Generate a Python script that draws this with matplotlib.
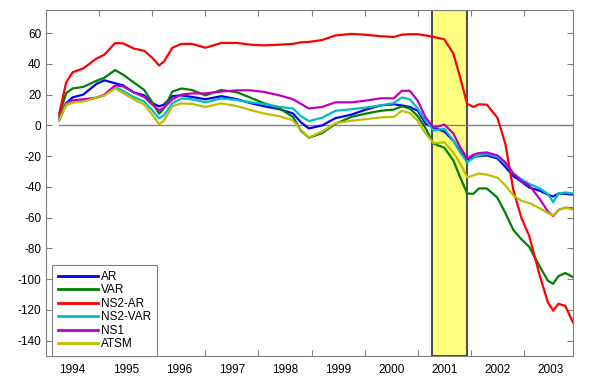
import numpy as np
import matplotlib
matplotlib.use("Agg")
import matplotlib.pyplot as plt

# time axis (years) and the six forecast error series
t = [1994.25, 1994.38, 1994.5, 1994.7, 1994.95, 1995.1, 1995.3, 1995.45, 1995.65, 1995.85,
     1996.0, 1996.13, 1996.22, 1996.38, 1996.55, 1996.75, 1997.0, 1997.3, 1997.6, 1997.85,
     1998.1, 1998.4, 1998.65, 1998.8, 1998.95, 1999.2, 1999.45, 1999.75, 2000.0, 2000.3,
     2000.55, 2000.7, 2000.85, 2001.0, 2001.15, 2001.3, 2001.5, 2001.67, 2001.8, 2001.93,
     2002.05, 2002.15, 2002.3, 2002.5, 2002.65, 2002.8, 2002.95, 2003.1, 2003.3, 2003.45,
     2003.55, 2003.65, 2003.78, 2003.92]

ar = [3.3, 14.5, 18.2, 20, 27, 29.3, 27.4, 26, 21.5, 19.5,
      14.5, 12.4, 13.5, 19, 19.5, 18.5, 17, 19, 17, 14.5,
      12.5, 10.5, 7.8, 2, -2, 0, 4.7, 7, 10, 13,
      13.7, 13, 12, 9.5, 1, -1.5, -4, -10, -17, -22,
      -20.5, -20, -19.5, -21.5, -27, -33, -36.5, -40.4, -42.5, -45,
      -46.3, -44.3, -44.5, -45]

var = [6.5, 21, 24, 25, 29, 31, 36, 33, 28, 23,
       15, 7.6, 11, 22, 24, 23, 19.5, 23, 21.5, 18,
       14.5, 11, 5.5, -3.5, -8, -5, 1, 5.5, 7.5, 9.5,
       10.3, 12.4, 11, 6, -2, -12, -14.5, -22.8, -33.8, -44.3,
       -44.5, -41, -41, -47, -57, -68, -74, -79, -92, -101,
       -103, -98, -96, -98.6]

ns2_ar = [7.8, 28, 34.5, 37, 43.5, 46, 53.5, 53.4, 50, 48.5,
          44, 39, 41.5, 50.5, 53, 53, 50.5, 53.6, 53.6, 52.5,
          52, 52.5, 53, 54, 54.3, 55.5, 58.5, 59.5, 59, 58,
          57.5, 59, 59.3, 59.3, 58.5, 57.5, 56, 46.7, 31, 14,
          12, 13.7, 13.5, 5, -12, -42, -60, -72, -98, -115,
          -120.5, -116, -117.5, -128]

ns2_var = [5.2, 13, 15, 16, 18, 19.5, 24.8, 22.5, 18.5, 15.5,
           9.8, 4.6, 6.5, 14.5, 17.5, 17, 15, 17.5, 16.5, 15,
           14, 12, 11, 6, 2.8, 5, 9.5, 10.5, 11.5, 13,
           14.5, 18.2, 17, 11, 3, -3.3, -2.2, -9.8, -17.6, -24,
           -21, -19.5, -18.5, -20.5, -25, -31.3, -35, -38, -41, -44.5,
           -50, -44.3, -43.6, -44.3]

ns1 = [4.6, 14.5, 16.3, 17, 18, 20, 26, 25.4, 21.5, 18.5,
       13.5, 9.8, 11.5, 17, 20, 20.8, 20.8, 22, 22.8, 22.8,
       21.8, 19.5, 17, 14, 11, 12, 15, 15, 16, 17.6,
       17.6, 22.5, 22.5, 16, 5, -1.5, 0.5, -5.2, -14.3, -21.5,
       -19, -18, -17.6, -19.5, -24, -31.3, -36, -39, -48, -56,
       -59, -55, -53.5, -54]

atsm = [3.3, 13.5, 14.8, 15.5, 18, 19.5, 24, 21, 17, 13.5,
        7, 0.7, 3, 12.5, 14.3, 14, 12, 14.3, 12.5, 10,
        7.8, 5.9, 3.3, -3, -7.8, -4, 1.5, 3, 4, 5.2,
        5.5, 9.5, 8, 3, -5.5, -11.7, -11, -17.6, -24.8, -33.8,
        -32.5, -31.3, -32, -34, -39, -45.5, -49, -50.5, -54, -57,
        -58.6, -55, -53.5, -54.7]

labels = ["AR", "VAR", "NS2-AR", "NS2-VAR", "NS1", "ATSM"]
colors = ["#0000ff", "#008000", "#ff0000", "#00bfbf", "#bf00bf", "#bfbf00"]

# recession band
band = (2001.27, 2001.93)
years = list(range(1994, 2004))

plt.rcParams['font.family'] = ['Liberation Sans', 'DejaVu Sans']
plt.rcParams['axes.unicode_minus'] = False

fig = plt.figure(figsize=(6, 3.87), dpi=100)
ax = fig.add_axes([0.0767, 0.080, 0.878, 0.894])

ax.axvspan(band[0], band[1], facecolor="#ffff80", edgecolor="#505050", linewidth=1.5, zorder=1)
ax.plot([t[0], t[-1]], [0, 0], color="#808080", linewidth=1, zorder=2)

for series, lab, col in zip([ar, var, ns2_ar, ns2_var, ns1, atsm], labels, colors):
	ax.plot(t, series, color=col, linewidth=1.6, label=lab, zorder=3)

ax.set_xlim(1994, 2003.92)
ax.set_ylim(-150, 75)
ax.set_yticks(np.arange(-140, 61, 20))

# ticks at year boundaries, labels centred on each year
ax.set_xticks(years[1:])
ax.set_xticklabels([])
ax.set_xticks([y + 0.5 for y in years], minor=True)
ax.set_xticklabels([str(y) for y in years], minor=True)

ax.tick_params(axis='both', which='major', direction='in', length=4, width=0.8,
               color="#808080", labelsize=8.5, top=True, right=True)
ax.tick_params(axis='x', which='minor', length=0, labelsize=8.5, pad=6)
for s in ax.spines.values():
	s.set_color("#808080")
	s.set_linewidth(0.8)

leg = ax.legend(loc='lower left', bbox_to_anchor=(0.011, 0.0), borderaxespad=0,
                fontsize=8.5, handlelength=3.4, labelspacing=0.12, handletextpad=0.3,
                borderpad=0.5, fancybox=False, framealpha=1)
leg.get_frame().set_edgecolor("#808080")
leg.get_frame().set_linewidth(0.8)
for line in leg.get_lines():
	line.set_linewidth(2)

fig.savefig("out.png", dpi=100)
